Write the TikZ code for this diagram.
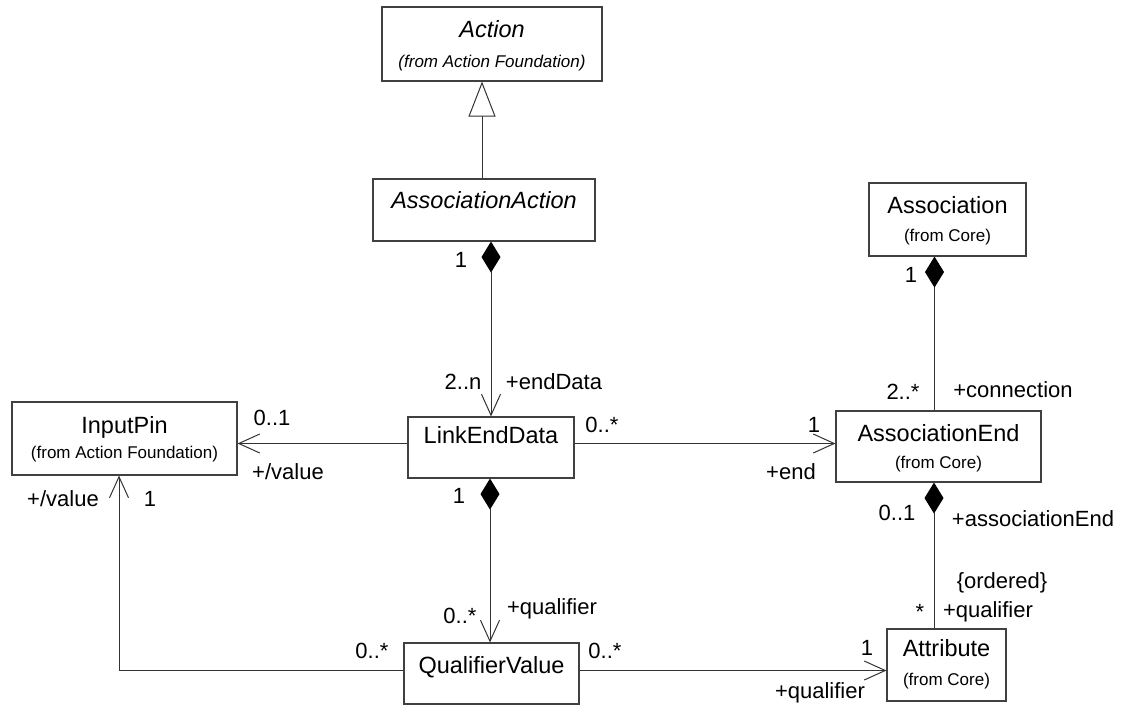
\documentclass[tikz,border=0pt]{standalone}
\usepackage{fontspec}
\setmainfont{Liberation Sans}
\usetikzlibrary{arrows.meta}

\begin{document}
\begin{tikzpicture}[x=1pt,y=-1pt,
  cls/.style={draw=black!75, line width=1.1pt, fill=white, inner sep=0pt},
  cname/.style={font=\fontsize{23.5}{28}\selectfont, inner sep=0pt, anchor=base},
  csub/.style={font=\fontsize{17}{20}\selectfont, inner sep=0pt, anchor=base},
  role/.style={font=\fontsize{22}{26}\selectfont, inner sep=0pt, anchor=base},
  conn/.style={draw=black!80, line width=1pt},
  nav/.style={conn, -{Straight Barb[length=21pt, width=19pt]}},
  comp/.style={conn, {Diamond[length=31pt, width=19pt, color=black]}-},
  compnav/.style={conn, {Diamond[length=31pt, width=19pt, color=black]}-{Straight Barb[length=21pt, width=19pt]}},
  gen/.style={conn, -{Triangle[open, length=35pt, width=27pt, fill=white]}},
]
\useasboundingbox (0,0) rectangle (1123,706);

% class boxes
\node[cls, minimum width=220, minimum height=74] (action) at (492,44) {};
\node[cls, minimum width=222, minimum height=62] (assocaction) at (484,210) {};
\node[cls, minimum width=166, minimum height=61] (linkend) at (491,447.5) {};
\node[cls, minimum width=225, minimum height=73] (inputpin) at (124.5,438.5) {};
\node[cls, minimum width=157, minimum height=73] (association) at (947.5,219.5) {};
\node[cls, minimum width=205, minimum height=71] (assocend) at (938.5,446.5) {};
\node[cls, minimum width=175, minimum height=61] (qualval) at (491.5,673.5) {};
\node[cls, minimum width=119, minimum height=72] (attribute) at (946.5,665) {};

% class names and packages
\node[cname] (actionN) at (492,38) {\itshape Action};
\node[csub] (actionP) at (492,68) {\itshape (from Action Foundation)};
\node[cname] (assocactionN) at (484,208) {\itshape AssociationAction};
\node[cname] (linkendN) at (491,443) {LinkEndData};
\node[cname] (inputpinN) at (124.5,433) {InputPin};
\node[csub] (inputpinP) at (124.5,458) {(from Action Foundation)};
\node[cname] (associationN) at (947.5,213) {Association};
\node[csub] (associationP) at (947.5,241) {(from Core)};
\node[cname] (assocendN) at (938.5,441) {AssociationEnd};
\node[csub] (assocendP) at (938.5,468) {(from Core)};
\node[cname] (qualvalN) at (491.5,673) {QualifierValue};
\node[cname] (attributeN) at (946.5,656) {Attribute};
\node[csub] (attributeP) at (946.5,685) {(from Core)};

% generalization
\draw[gen] ([xshift=-2pt]assocaction.north) -- ([xshift=-2pt]assocaction.north |- action.south);

% AssociationAction -> LinkEndData
\draw[compnav] (assocaction.south -| linkend.north) -- (linkend.north);
\node[role] (m1) at (461,267) {1};
\node[role] (m2) at (463,389) {2..n};
\node[role] (r1) at (554,389) {+endData};

% LinkEndData -> InputPin
\draw[nav] ([yshift=4pt]linkend.west) -- ([yshift=4pt]linkend.west -| inputpin.east);
\node[role] (m3) at (272,425) {0..1};
\node[role] (r2) at (288,479) {+/value};

% LinkEndData -> AssociationEnd
\draw[nav] ([yshift=4pt]linkend.east) -- ([yshift=4pt]linkend.east -| assocend.west);
\node[role] (m4) at (602,432) {0..*};
\node[role] (m5) at (814,432) {1};
\node[role] (r3) at (791,479) {+end};

% Association -> AssociationEnd
\draw[comp] ([xshift=-13pt]association.south) -- ([xshift=-13pt]association.south |- assocend.north);
\node[role] (m6) at (911,282) {1};
\node[role] (m7) at (903,399) {2..*};
\node[role] (r4) at (1013,397) {+connection};

% AssociationEnd -> Attribute
\draw[comp] ([xshift=-4.5pt]assocend.south) -- ([xshift=-4.5pt]assocend.south |- attribute.north);
\node[role] (m8) at (897,520) {0..1};
\node[role] (r5) at (1033,526) {+associationEnd};
\node[role] (c1) at (1002,588) {\{ordered\}};
\node[role] (r6) at (988,617) {+qualifier};
\node[role, anchor=center] (m9) at (920,612) {*};

% LinkEndData -> QualifierValue
\draw[compnav] ([xshift=-1pt]linkend.south) -- ([xshift=-1pt]linkend.south |- qualval.north);
\node[role] (m10) at (459,503) {1};
\node[role] (m11) at (460,623) {0..*};
\node[role] (r7) at (552,614) {+qualifier};

% QualifierValue -> InputPin
\draw[nav] ([yshift=3pt]qualval.west) -| ([xshift=-5.5pt]inputpin.south);
\node[role] (m12) at (372,658) {0..*};
\node[role] (r8) at (63,506) {+/value};
\node[role] (m13) at (150,506) {1};

% QualifierValue -> Attribute
\draw[nav] ([yshift=3pt]qualval.east) -- ([yshift=3pt]qualval.east -| attribute.west);
\node[role] (m14) at (605,658) {0..*};
\node[role] (m15) at (867,655) {1};
\node[role] (r9) at (820,698) {+qualifier};

\end{tikzpicture}
\end{document}
